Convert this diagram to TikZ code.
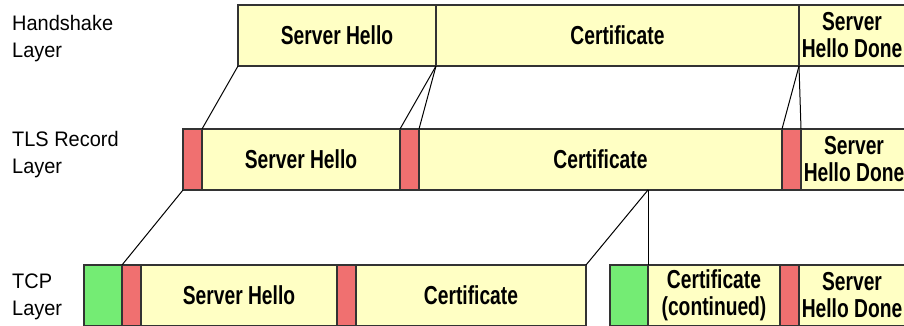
\documentclass[tikz,border=0pt]{standalone}
\usepackage{fontspec}
\setmainfont{Liberation Sans}
\newfontfamily\uzky[FakeStretch=0.74]{Liberation Sans}
\newfontfamily\popis[FakeStretch=0.95]{Liberation Sans}
\usetikzlibrary{positioning}
\definecolor{hlavRed}{RGB}{240,112,112}
\definecolor{hlavGreen}{RGB}{116,236,116}
\definecolor{datYellow}{RGB}{255,255,196}
\tikzset{
  pole/.style={draw=black!80,line width=1.6pt,outer sep=0pt,inner sep=0pt,minimum height=61pt,align=center,font=\uzky\bfseries\fontsize{26}{27}\selectfont},
  datbox/.style={pole,fill=datYellow},
  recbox/.style={pole,fill=hlavRed,minimum width=19pt},
  tcpbox/.style={pole,fill=hlavGreen,minimum width=38pt},
  vrstva/.style={anchor=north west,inner sep=0pt,align=left,font=\popis\fontsize{21}{27}\selectfont},
  spoj/.style={line width=1pt},
}

\begin{document}
\begin{tikzpicture}[x=1pt,y=-1pt]
  \useasboundingbox (0,0) rectangle (904,325);
  \clip (0,0) rectangle (904,325);
  % vrstvy
  \node[vrstva] (lblHs) at (12,15) {Handshake\\Layer};
  \node[vrstva] (lblTls) at (12,131) {TLS Record\\Layer};
  \node[vrstva] (lblTcp) at (12,274) {TCP\\Layer};
  % handshake
  \node[datbox,anchor=north west,minimum width=198pt] (hsSH) at (238,5) {Server Hello};
  \node[datbox,minimum width=363pt,right=0pt of hsSH] (hsCert) {Certificate};
  \node[datbox,minimum width=106pt,right=0pt of hsCert] (hsSHD) {Server\\Hello Done};
  % TLS records
  \node[recbox,anchor=north west] (tlsR1) at (183,129) {};
  \node[datbox,minimum width=198pt,right=0pt of tlsR1] (tlsSH) {Server Hello};
  \node[recbox,right=0pt of tlsSH] (tlsR2) {};
  \node[datbox,minimum width=363pt,right=0pt of tlsR2] (tlsCert) {Certificate};
  \node[recbox,right=0pt of tlsCert] (tlsR3) {};
  \node[datbox,minimum width=106pt,right=0pt of tlsR3] (tlsSHD) {Server\\Hello Done};
  % TCP segmenty
  \node[tcpbox,anchor=north west] (tcpH1) at (84,265) {};
  \node[recbox,right=0pt of tcpH1] (tcpR1) {};
  \node[datbox,minimum width=196pt,right=0pt of tcpR1] (tcpSH) {Server Hello};
  \node[recbox,right=0pt of tcpSH] (tcpR2) {};
  \node[datbox,minimum width=230pt,right=0pt of tcpR2] (tcpCert) {Certificate};
  \node[tcpbox,anchor=north west] (tcpH2) at (610,265) {};
  \node[datbox,minimum width=132pt,right=0pt of tcpH2] (tcpCont) {Certificate\\(continued)};
  \node[recbox,right=0pt of tcpCont] (tcpR3) {};
  \node[datbox,minimum width=106pt,right=0pt of tcpR3] (tcpSHD) {Server\\Hello Done};
  % spoje
  \draw[spoj] (hsSH.south west) -- (tlsSH.north west);
  \draw[spoj] (hsSH.south east) -- (tlsR2.north west);
  \draw[spoj] (hsSH.south east) -- (tlsCert.north west);
  \draw[spoj] (hsCert.south east) -- (tlsR3.north west);
  \draw[spoj] (hsCert.south east) -- (tlsSHD.north west);
  \draw[spoj] (tlsR1.south west) -- (tcpR1.north west);
  \coordinate (rez) at (tcpCont.north west |- tlsCert.south);
  \draw[spoj] (rez) -- (tcpCert.north east);
  \draw[spoj] (rez) -- (tcpCont.north west);
\end{tikzpicture}
\end{document}
